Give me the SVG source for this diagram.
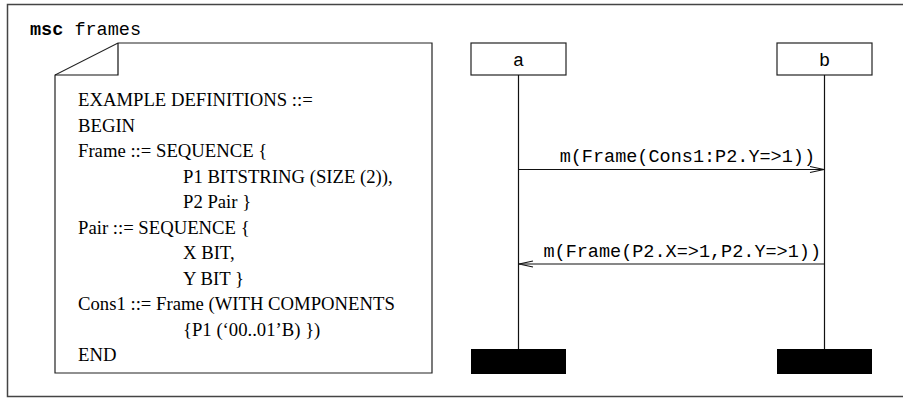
<svg xmlns="http://www.w3.org/2000/svg" width="903" height="402" viewBox="0 0 903 402">
<style>
.frame{fill:none;stroke:#444;stroke-width:1.5}
.box{fill:#fff;stroke:#222;stroke-width:1.2}
.line{fill:none;stroke:#111;stroke-width:1.2}
.mono{font-family:"Liberation Mono","Courier New",monospace;font-size:18.5px;fill:#000}
.serif{font-family:"Liberation Serif","Times New Roman",serif;font-size:18.7px;fill:#000}
.end{fill:#000}
</style>
<defs>
<marker id="open" markerWidth="16" markerHeight="10" refX="15" refY="5" orient="auto" markerUnits="userSpaceOnUse">
<path d="M1,2 L15,5 L1,8" fill="none" stroke="#111" stroke-width="1.1"/>
</marker>
</defs>
<g id="frame">
<path class="frame" d="M903,4.5 H7.5 V396.5 H903"/>
<text x="30" y="35" class="mono"><tspan font-weight="bold">msc</tspan> frames</text>
</g>
<g id="text-note">
<path class="box" d="M118,43 H432 V373 H55 V75 Z"/>
<path class="line" d="M118,43 V75 H55"/>
<text class="serif">
<tspan x="78" y="106">EXAMPLE DEFINITIONS ::=</tspan>
<tspan x="78" y="132">BEGIN</tspan>
<tspan x="78" y="157">Frame ::= SEQUENCE {</tspan>
<tspan x="183" y="183">P1 BITSTRING (SIZE (2)),</tspan>
<tspan x="183" y="208">P2 Pair }</tspan>
<tspan x="78" y="234">Pair ::= SEQUENCE {</tspan>
<tspan x="183" y="259">X BIT,</tspan>
<tspan x="183" y="285">Y BIT }</tspan>
<tspan x="78" y="310">Cons1 ::= Frame (WITH COMPONENTS</tspan>
<tspan x="183" y="336">{P1 (‘00..01’B) })</tspan>
<tspan x="78" y="361">END</tspan>
</text>
</g>
<g id="instance-a">
<rect class="box" x="471" y="43" width="95" height="32"/>
<text x="518.5" y="66" class="mono" text-anchor="middle">a</text>
<line class="line" x1="518.5" y1="75" x2="518.5" y2="349"/>
<rect class="end" x="471" y="349" width="95" height="25"/>
</g>
<g id="instance-b">
<rect class="box" x="777" y="43" width="95" height="32"/>
<text x="824.5" y="66" class="mono" text-anchor="middle">b</text>
<line class="line" x1="824.5" y1="75" x2="824.5" y2="349"/>
<rect class="end" x="777" y="349" width="95" height="25"/>
</g>
<g id="connectors">
<line class="line" x1="518.5" y1="169.5" x2="824" y2="169.5" marker-end="url(#open)"/>
<text x="815" y="161.5" class="mono" text-anchor="end">m(Frame(Cons1:P2.Y=&gt;1))</text>
<line class="line" x1="824.5" y1="264" x2="519" y2="264" marker-end="url(#open)"/>
<text x="821" y="256.5" class="mono" text-anchor="end">m(Frame(P2.X=&gt;1,P2.Y=&gt;1))</text>
</g>
</svg>
